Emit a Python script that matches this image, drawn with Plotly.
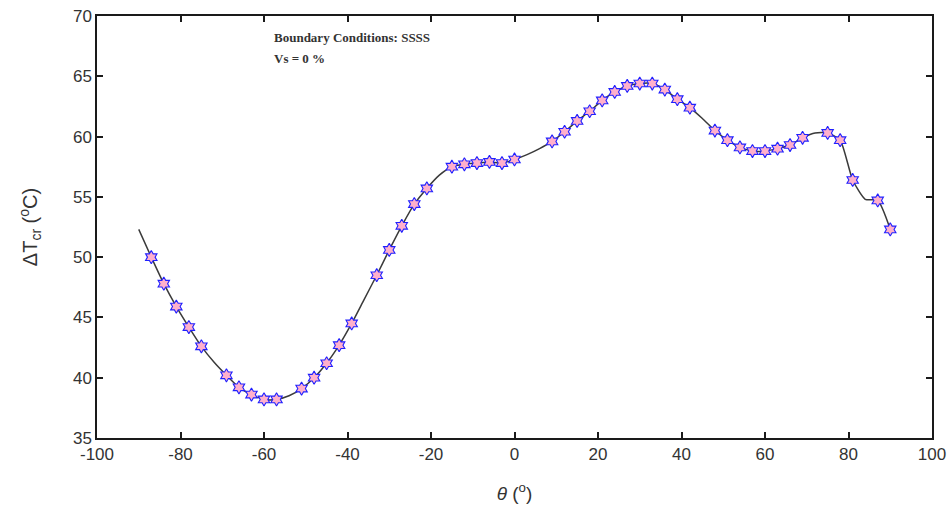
import plotly.graph_objects as go

# Curve (every 3 degrees from -90 to 90)
theta_line = [-90, -87, -84, -81, -78, -75, -72, -69, -66, -63, -60, -57, -54, -51, -48, -45, -42, -39,
              -36, -33, -30, -27, -24, -21, -18, -15, -12, -9, -6, -3, 0, 3, 6, 9, 12, 15, 18, 21, 24,
              27, 30, 33, 36, 39, 42, 45, 48, 51, 54, 57, 60, 63, 66, 69, 72, 75, 78, 81, 84, 87, 90]
dT_line = [52.3, 50.0, 47.8, 45.9, 44.2, 42.6, 41.3, 40.2, 39.2, 38.6, 38.2, 38.2, 38.5, 39.1, 40.0, 41.2, 42.7, 44.5,
           46.5, 48.5, 50.6, 52.6, 54.4, 55.7, 56.8, 57.5, 57.7, 57.8, 57.9, 57.8, 58.1, 58.5, 59.0, 59.6, 60.4, 61.3, 62.1, 63.0, 63.7,
           64.2, 64.4, 64.4, 63.9, 63.1, 62.4, 61.5, 60.5, 59.7, 59.1, 58.8, 58.8, 59.0, 59.3, 59.9, 60.3, 60.3, 59.7, 56.4, 54.8, 54.7, 52.3]

# Marked points
theta_pts = [-87, -84, -81, -78, -75, -69, -66, -63, -60, -57, -51, -48, -45, -42, -39, -33, -30, -27, -24, -21,
             -15, -12, -9, -6, -3, 0, 9, 12, 15, 18, 21, 24, 27, 30, 33, 36, 39, 42, 48, 51, 54, 57, 60, 63,
             66, 69, 75, 78, 81, 87, 90]
dT_pts = [50.0, 47.8, 45.9, 44.2, 42.6, 40.2, 39.2, 38.6, 38.2, 38.2, 39.1, 40.0, 41.2, 42.7, 44.5, 48.5, 50.6, 52.6, 54.4, 55.7,
          57.5, 57.7, 57.8, 57.9, 57.8, 58.1, 59.6, 60.4, 61.3, 62.1, 63.0, 63.7, 64.2, 64.4, 64.4, 63.9, 63.1, 62.4, 60.5, 59.7, 59.1, 58.8, 58.8, 59.0,
          59.3, 59.9, 60.3, 59.7, 56.4, 54.7, 52.3]

x_ticks = [-100, -80, -60, -40, -20, 0, 20, 40, 60, 80, 100]
x_labels = ["-100", "-80", "-60", "-40", "-20", "0", "20", "40", "60", "80", "100"]
y_ticks = [35, 40, 45, 50, 55, 60, 65, 70]

fig = go.Figure()
fig.add_trace(go.Scatter(x=theta_line, y=dT_line, mode="lines",
                         line=dict(color="#3a3a3a", width=1.5, shape="spline", smoothing=0.6),
                         showlegend=False, hoverinfo="skip"))
fig.add_trace(go.Scatter(x=theta_pts, y=dT_pts, mode="markers",
                         marker=dict(symbol="hexagram", size=10, color="#ffb0cc",
                                     line=dict(color="#2020ff", width=1.1)),
                         showlegend=False))

axis_common = dict(showline=True, linecolor="#1a1a1a", linewidth=1.5, mirror="ticks",
                   ticks="inside", ticklen=6, tickwidth=1.5, tickcolor="#1a1a1a",
                   showgrid=False, zeroline=False, automargin=False,
                   tickfont=dict(family="Liberation Sans, Arial", size=17, color="#333333"))

fig.update_xaxes(range=[-100, 100], tickvals=x_ticks, ticktext=x_labels, **axis_common,
                 title=dict(text="<i>θ</i> (<sup>o</sup>)", font=dict(family="Liberation Sans, Arial", size=19, color="#333333"),
                            standoff=24))
fig.update_yaxes(range=[35, 70], tickvals=y_ticks, **axis_common,
                 title=dict(text="ΔT<sub>cr</sub> (<sup>o</sup>C)", font=dict(family="Liberation Sans, Arial", size=20, color="#333333"),
                            standoff=30))

fig.add_annotation(x=-58.2, y=68.2, xref="x", yref="y", xanchor="left", yanchor="middle",
                   text="<b>Boundary Conditions: SSSS</b>", showarrow=False,
                   font=dict(family="Liberation Serif, Times New Roman", size=13, color="#333333"))
fig.add_annotation(x=-58.2, y=66.5, xref="x", yref="y", xanchor="left", yanchor="middle",
                   text="<b>Vs = 0 %</b>", showarrow=False,
                   font=dict(family="Liberation Serif, Times New Roman", size=13, color="#333333"))

fig.update_layout(width=950, height=510, margin=dict(l=97, r=18, t=16, b=72),
                  plot_bgcolor="white", paper_bgcolor="white")

fig.write_html("out.html")
